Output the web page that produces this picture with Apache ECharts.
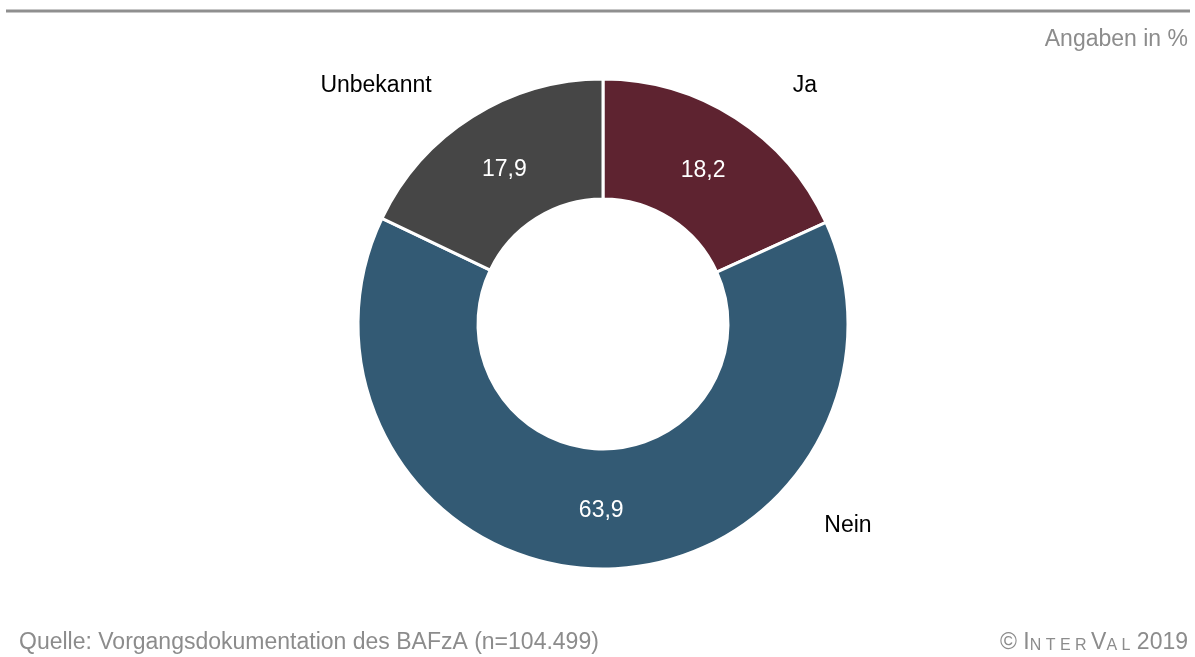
<!DOCTYPE html>
<html>
<head>
<meta charset="utf-8">
<script src="https://cdn.jsdelivr.net/npm/echarts@6/dist/echarts.min.js"></script>
<style>
  html, body { margin: 0; padding: 0; background: #fff; }
  #chart { width: 1195px; height: 657px; }
</style>
</head>
<body>
<div id="chart"></div>
<script>
// data
const categories = ['Ja', 'Nein', 'Unbekannt'];
const shares = [18.2, 63.9, 17.9];
const colors = ['#5e2330', '#335a74', '#464646'];

// where the category names sit, relative to the pie centre (px)
const nameOffsets = [[202, -240], [245, 200], [-227, -240]];

const cx = 603, cy = 324;
const r0 = 125, r1 = 245;
const font = 'Liberation Sans, Arial, sans-serif';

const chart = echarts.init(document.getElementById('chart'), null, { renderer: 'canvas' });

const pieData = categories.map((name, i) => ({
  name: name,
  value: shares[i],
  itemStyle: { color: colors[i] },
}));

// mid angle (clockwise from 12 o'clock) of each slice, for the value labels
const total = shares.reduce((a, b) => a + b, 0);
const midAngles = [];
let acc = 0;
shares.forEach(v => {
  midAngles.push((acc + v / 2) / total * 2 * Math.PI);
  acc += v;
});

const grey = '#8c8c8c';

const option = {
  animation: false,
  textStyle: { fontFamily: font },
  graphic: [
    {
      type: 'line',
      shape: { x1: 6, y1: 11, x2: 1190, y2: 11 },
      style: { stroke: '#8f8f8f', lineWidth: 3 },
    },
    {
      type: 'text',
      right: 7,
      top: 28,
      style: { text: 'Angaben in %', font: '23px ' + font, fill: grey },
    },
    {
      type: 'text',
      left: 19,
      top: 631,
      style: { text: 'Quelle: Vorgangsdokumentation des BAFzA (n=104.499)', font: '23px ' + font, fill: grey },
    },
    {
      type: 'text',
      right: 7,
      top: 631,
      style: {
        text: '{b|© I}{s|N T E R }{b|V}{s|A L}{b| 2019}',
        fill: grey,
        rich: {
          b: { fontSize: 23, fontFamily: font, fill: grey, verticalAlign: 'bottom' },
          s: { fontSize: 16, fontFamily: font, fill: grey, verticalAlign: 'bottom' },
        },
      },
    },
  ],
  series: [
    {
      type: 'pie',
      center: [cx, cy],
      radius: [r0, r1],
      startAngle: 90,
      clockwise: true,
      silent: true,
      itemStyle: { borderColor: '#fff', borderWidth: 3 },
      label: {
        show: true,
        position: 'inside',
        color: '#fff',
        fontSize: 23,
        fontFamily: font,
        formatter: p => String(p.value).replace('.', ','),
      },
      labelLine: { show: false },
      labelLayout: params => ({
        x: cx + (r0 + r1) / 2 * Math.sin(midAngles[params.dataIndex]),
        y: cy - (r0 + r1) / 2 * Math.cos(midAngles[params.dataIndex]) + 2,
        align: 'center',
        verticalAlign: 'middle',
      }),
      data: pieData,
    },
    {
      type: 'pie',
      center: [cx, cy],
      radius: [r0, r1],
      startAngle: 90,
      clockwise: true,
      silent: true,
      itemStyle: { color: 'rgba(0,0,0,0)', borderWidth: 0 },
      label: {
        show: true,
        position: 'outside',
        color: '#000',
        fontSize: 23,
        fontFamily: font,
        formatter: '{b}',
      },
      labelLine: { show: false },
      labelLayout: params => ({
        x: cx + nameOffsets[params.dataIndex][0],
        y: cy + nameOffsets[params.dataIndex][1] + 2,
        align: 'center',
        verticalAlign: 'middle',
      }),
      data: categories.map((name, i) => ({ name: name, value: shares[i] })),
    },
  ],
};

chart.setOption(option);
</script>
</body>
</html>
